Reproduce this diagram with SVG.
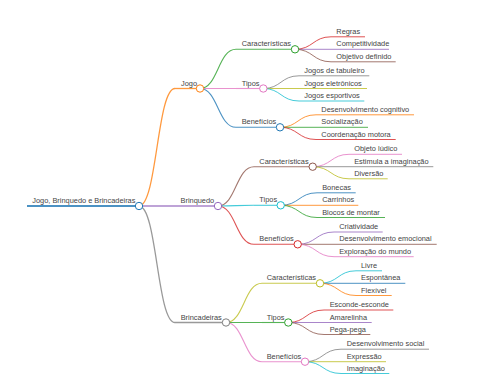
<svg xmlns="http://www.w3.org/2000/svg" width="480" height="384" viewBox="0 0 480 384">
<style>
.t{font-family:"Liberation Sans",Arial,sans-serif;font-size:7.4px;fill:#444}
path{fill:none;stroke-opacity:0.8}
circle{fill:#fff;stroke-width:1}
.c0{stroke:#1f77b4}.c1{stroke:#ff7f0e}.c2{stroke:#2ca02c}.c3{stroke:#d62728}.c4{stroke:#9467bd}
.c5{stroke:#8c564b}.c6{stroke:#e377c2}.c7{stroke:#7f7f7f}.c8{stroke:#bcbd22}.c9{stroke:#17becf}
.w0{stroke-width:2}.w1{stroke-width:1.3}.w2{stroke-width:1.1}.w3{stroke-width:1}
</style>
<rect width="480" height="384" fill="#fff"/>
<g id="connectors">
<path class="c1 w1" d="M139,206 C157,206 157,88.5 175,88.5"/>
<path class="c4 w1" d="M139,206 L175,206"/>
<path class="c7 w1" d="M139,206 C157,206 157,322.5 175,322.5"/>
<path class="c2 w2" d="M200,88.5 C218,88.5 218,49.3 236,49.3"/>
<path class="c6 w2" d="M200,88.5 L236,88.5"/>
<path class="c0 w2" d="M200,88.5 C218,88.5 218,127.3 236,127.3"/>
<path class="c3 w3" d="M295,49.3 C313,49.3 313,36.8 331,36.8"/>
<path class="c4 w3" d="M295,49.3 L331,49.3"/>
<path class="c5 w3" d="M295,49.3 C313,49.3 313,61.8 331,61.8"/>
<path class="c7 w3" d="M263.3,88.5 C281,88.5 281,75.8 299,75.8"/>
<path class="c8 w3" d="M263.3,88.5 L299,88.5"/>
<path class="c9 w3" d="M263.3,88.5 C281,88.5 281,101 299,101"/>
<path class="c1 w3" d="M280,127.3 C298,127.3 298,114.8 316,114.8"/>
<path class="c2 w3" d="M280,127.3 L316,127.3"/>
<path class="c3 w3" d="M280,127.3 C298,127.3 298,139.5 316,139.5"/>
<path class="c5 w2" d="M218,206 C236,206 236,166.7 254,166.7"/>
<path class="c9 w2" d="M218,206 C236,206 236,205.3 254,205.3"/>
<path class="c3 w2" d="M218,206 C236,206 236,244.3 254,244.3"/>
<path class="c6 w3" d="M312.7,166.7 C331,166.7 331,154.3 349,154.3"/>
<path class="c7 w3" d="M312.7,166.7 L349,166.7"/>
<path class="c8 w3" d="M312.7,166.7 C331,166.7 331,178.8 349,178.8"/>
<path class="c0 w3" d="M280.7,205.3 C299,205.3 299,192.8 317,192.8"/>
<path class="c1 w3" d="M280.7,205.3 L317,205.3"/>
<path class="c2 w3" d="M280.7,205.3 C299,205.3 299,217.5 317,217.5"/>
<path class="c4 w3" d="M297.7,244.3 C316,244.3 316,232 334,232"/>
<path class="c5 w3" d="M297.7,244.3 L334,244.3"/>
<path class="c6 w3" d="M297.7,244.3 C316,244.3 316,256.7 334,256.7"/>
<path class="c8 w2" d="M226,322.5 C244,322.5 244,283.3 262,283.3"/>
<path class="c2 w2" d="M226,322.5 L262,322.5"/>
<path class="c6 w2" d="M226,322.5 C244,322.5 244,361.7 262,361.7"/>
<path class="c9 w3" d="M320,283.3 C338,283.3 338,270.8 356,270.8"/>
<path class="c0 w3" d="M320,283.3 L356,283.3"/>
<path class="c1 w3" d="M320,283.3 C338,283.3 338,295.5 356,295.5"/>
<path class="c3 w3" d="M288.3,322.5 C306,322.5 306,310 324,310"/>
<path class="c4 w3" d="M288.3,322.5 L324,322.5"/>
<path class="c5 w3" d="M288.3,322.5 C306,322.5 306,334.5 324,334.5"/>
<path class="c7 w3" d="M305,361.7 C323,361.7 323,349.2 341,349.2"/>
<path class="c8 w3" d="M305,361.7 L341,361.7"/>
<path class="c9 w3" d="M305,361.7 C323,361.7 323,373.5 341,373.5"/>
</g>
<g id="root"><path class="c0 w0" d="M27,206 H139"/><circle class="c0" cx="139" cy="206" r="3.7"/><text class="t" x="32.3" y="203">Jogo, Brinquedo e Brincadeiras</text></g>
<g id="jogo"><path class="c1 w1" d="M175,88.5 H200"/><circle class="c1" cx="200" cy="88.5" r="3.7"/><text class="t" x="181" y="85.5">Jogo</text></g>
<g id="jogo-caracteristicas"><path class="c2 w2" d="M236,49.3 H295"/><circle class="c2" cx="295" cy="49.3" r="3.7"/><text class="t" x="241.7" y="46.3">Características</text></g>
<g id="jogo-regras"><path class="c3 w3" d="M331,36.8 H365"/><text class="t" x="336.3" y="33.8">Regras</text></g>
<g id="jogo-competitividade"><path class="c4 w3" d="M331,49.3 H389"/><text class="t" x="336.3" y="46.3">Competitividade</text></g>
<g id="jogo-objetivo"><path class="c5 w3" d="M331,61.8 H395.7"/><text class="t" x="336.3" y="58.8">Objetivo definido</text></g>
<g id="jogo-tipos"><path class="c6 w2" d="M236,88.5 H263.3"/><circle class="c6" cx="263.3" cy="88.5" r="3.7"/><text class="t" x="241.7" y="85.5">Tipos</text></g>
<g id="jogo-tabuleiro"><path class="c7 w3" d="M299,75.8 H369.3"/><text class="t" x="304.3" y="72.8">Jogos de tabuleiro</text></g>
<g id="jogo-eletronicos"><path class="c8 w3" d="M299,88.5 H367"/><text class="t" x="304.3" y="85.5">Jogos eletrônicos</text></g>
<g id="jogo-esportivos"><path class="c9 w3" d="M299,101 H364.3"/><text class="t" x="304.3" y="98">Jogos esportivos</text></g>
<g id="jogo-beneficios"><path class="c0 w2" d="M236,127.3 H280"/><circle class="c0" cx="280" cy="127.3" r="3.7"/><text class="t" x="241.7" y="124.3">Benefícios</text></g>
<g id="jogo-cognitivo"><path class="c1 w3" d="M316,114.8 H414"/><text class="t" x="321.3" y="111.8">Desenvolvimento cognitivo</text></g>
<g id="jogo-socializacao"><path class="c2 w3" d="M316,127.3 H368"/><text class="t" x="321.3" y="124.3">Socialização</text></g>
<g id="jogo-coordenacao"><path class="c3 w3" d="M316,139.5 H395.7"/><text class="t" x="321.3" y="136.5">Coordenação motora</text></g>
<g id="brinquedo"><path class="c4 w1" d="M175,206 H218"/><circle class="c4" cx="218" cy="206" r="3.7"/><text class="t" x="180.5" y="203">Brinquedo</text></g>
<g id="brinquedo-caracteristicas"><path class="c5 w2" d="M254,166.7 H312.7"/><circle class="c5" cx="312.7" cy="166.7" r="3.7"/><text class="t" x="259.3" y="163.7">Características</text></g>
<g id="brinquedo-objeto"><path class="c6 w3" d="M349,154.3 H402"/><text class="t" x="354.2" y="151.3">Objeto lúdico</text></g>
<g id="brinquedo-estimula"><path class="c7 w3" d="M349,166.7 H433.3"/><text class="t" x="354.2" y="163.7">Estimula a imaginação</text></g>
<g id="brinquedo-diversao"><path class="c8 w3" d="M349,178.8 H387.7"/><text class="t" x="354.2" y="175.8">Diversão</text></g>
<g id="brinquedo-tipos"><path class="c9 w2" d="M254,205.3 H280.7"/><circle class="c9" cx="280.7" cy="205.3" r="3.7"/><text class="t" x="259.3" y="202.3">Tipos</text></g>
<g id="brinquedo-bonecas"><path class="c0 w3" d="M317,192.8 H355.7"/><text class="t" x="322.2" y="189.8">Bonecas</text></g>
<g id="brinquedo-carrinhos"><path class="c1 w3" d="M317,205.3 H358.3"/><text class="t" x="322.2" y="202.3">Carrinhos</text></g>
<g id="brinquedo-blocos"><path class="c2 w3" d="M317,217.5 H385"/><text class="t" x="322.2" y="214.5">Blocos de montar</text></g>
<g id="brinquedo-beneficios"><path class="c3 w2" d="M254,244.3 H297.7"/><circle class="c3" cx="297.7" cy="244.3" r="3.7"/><text class="t" x="259.3" y="241.3">Benefícios</text></g>
<g id="brinquedo-criatividade"><path class="c4 w3" d="M334,232 H382.7"/><text class="t" x="339.2" y="229">Criatividade</text></g>
<g id="brinquedo-emocional"><path class="c5 w3" d="M334,244.3 H436.7"/><text class="t" x="339.2" y="241.3">Desenvolvimento emocional</text></g>
<g id="brinquedo-exploracao"><path class="c6 w3" d="M334,256.7 H413.7"/><text class="t" x="339.2" y="253.7">Exploração do mundo</text></g>
<g id="brincadeiras"><path class="c7 w1" d="M175,322.5 H226"/><circle class="c7" cx="226" cy="322.5" r="3.7"/><text class="t" x="180.7" y="319.5">Brincadeiras</text></g>
<g id="brincadeiras-caracteristicas"><path class="c8 w2" d="M262,283.3 H320"/><circle class="c8" cx="320" cy="283.3" r="3.7"/><text class="t" x="266.7" y="280.3">Características</text></g>
<g id="brincadeiras-livre"><path class="c9 w3" d="M356,270.8 H382"/><text class="t" x="361" y="267.8">Livre</text></g>
<g id="brincadeiras-espontanea"><path class="c0 w3" d="M356,283.3 H405.3"/><text class="t" x="361" y="280.3">Espontânea</text></g>
<g id="brincadeiras-flexivel"><path class="c1 w3" d="M356,295.5 H391.7"/><text class="t" x="361" y="292.5">Flexível</text></g>
<g id="brincadeiras-tipos"><path class="c2 w2" d="M262,322.5 H288.3"/><circle class="c2" cx="288.3" cy="322.5" r="3.7"/><text class="t" x="266.7" y="319.5">Tipos</text></g>
<g id="brincadeiras-esconde"><path class="c3 w3" d="M324,310 H393.3"/><text class="t" x="329.7" y="307">Esconde-esconde</text></g>
<g id="brincadeiras-amarelinha"><path class="c4 w3" d="M324,322.5 H371.7"/><text class="t" x="329.7" y="319.5">Amarelinha</text></g>
<g id="brincadeiras-pega"><path class="c5 w3" d="M324,334.5 H370.3"/><text class="t" x="329.7" y="331.5">Pega-pega</text></g>
<g id="brincadeiras-beneficios"><path class="c6 w2" d="M262,361.7 H305"/><circle class="c6" cx="305" cy="361.7" r="3.7"/><text class="t" x="266.7" y="358.7">Benefícios</text></g>
<g id="brincadeiras-social"><path class="c7 w3" d="M341,349.2 H429"/><text class="t" x="346.7" y="346.2">Desenvolvimento social</text></g>
<g id="brincadeiras-expressao"><path class="c8 w3" d="M341,361.7 H386"/><text class="t" x="346.7" y="358.7">Expressão</text></g>
<g id="brincadeiras-imaginacao"><path class="c9 w3" d="M341,373.5 H389.3"/><text class="t" x="346.7" y="370.5">Imaginação</text></g>
</svg>
